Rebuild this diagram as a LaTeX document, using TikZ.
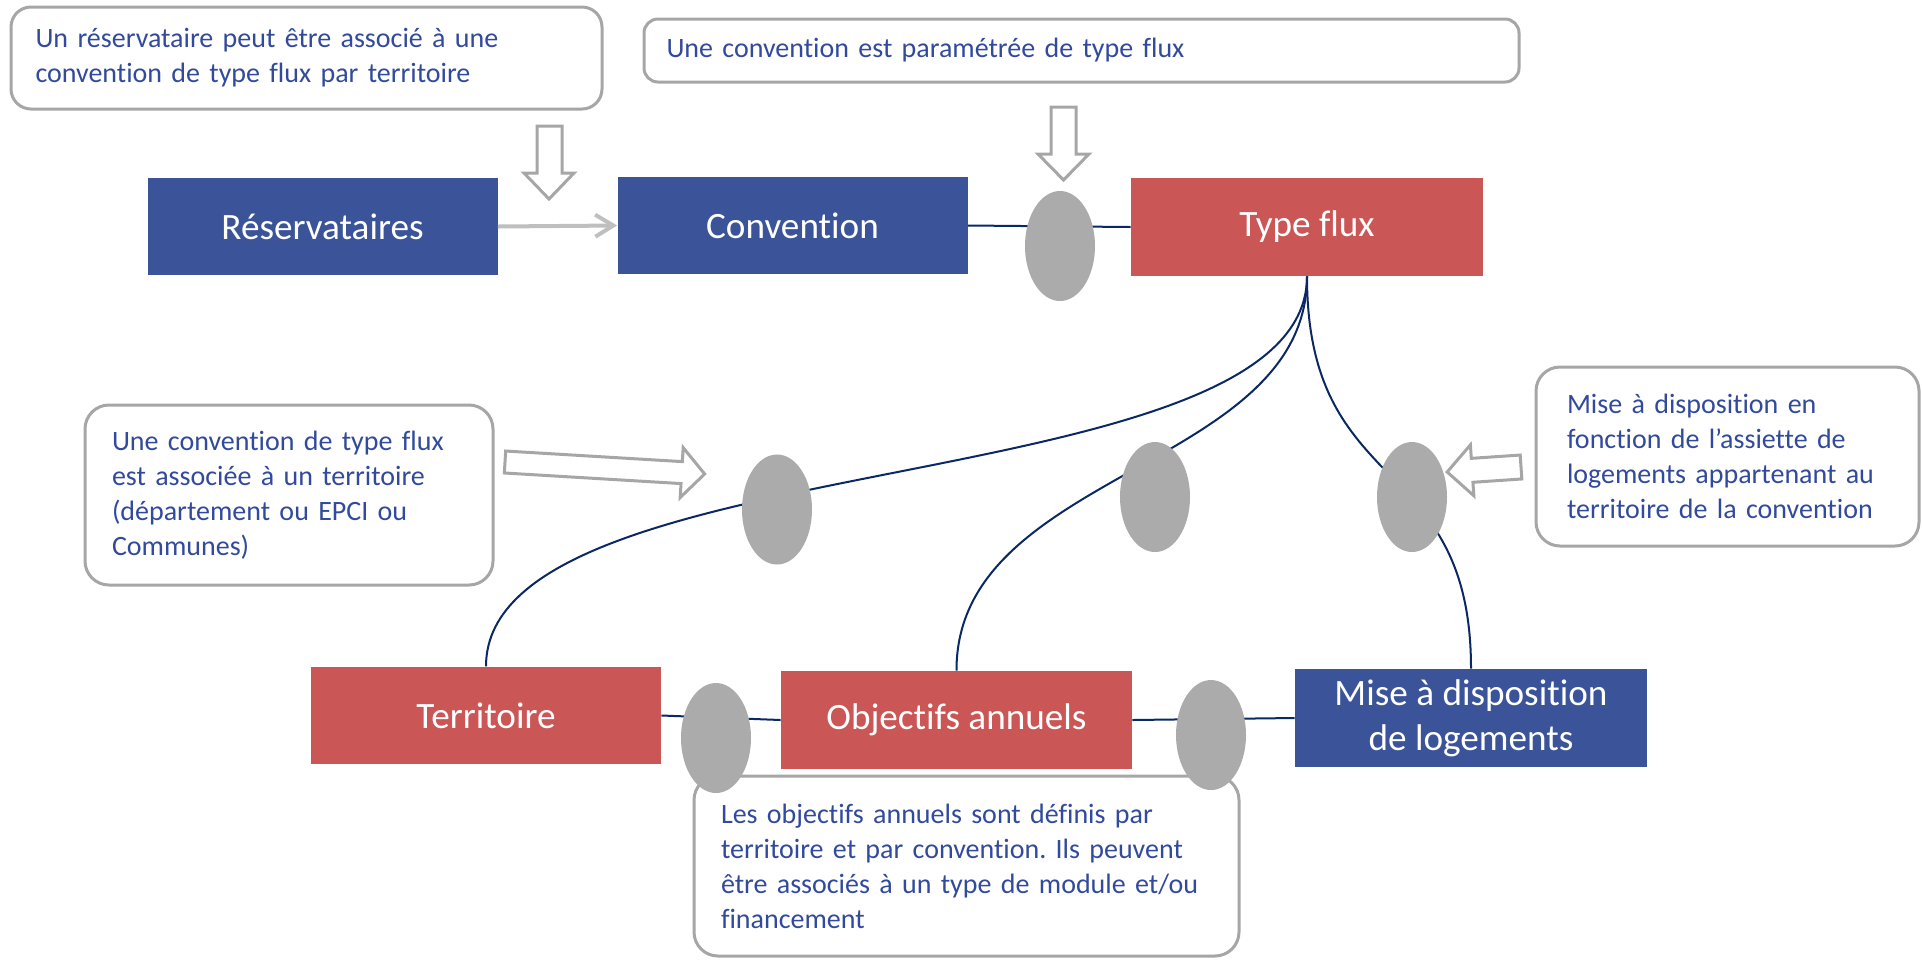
\documentclass[tikz,border=0pt]{standalone}
\usepackage{fontspec}
\setmainfont{Carlito}[Ligatures=NoCommon]
\usetikzlibrary{backgrounds,arrows.meta,shapes.geometric}
\definecolor{boxblue}{RGB}{59,84,153}
\definecolor{boxred}{RGB}{203,86,86}
\definecolor{ellgray}{RGB}{171,171,171}
\definecolor{callgray}{RGB}{166,166,166}
\definecolor{txtblue}{RGB}{50,74,156}
\definecolor{navyline}{RGB}{10,40,100}
\definecolor{arrgray}{RGB}{191,191,191}
\frenchspacing
\begin{document}
\begin{tikzpicture}[x=0.5pt,y=-0.5pt,
  entity/.style={rectangle, draw=none, text=white, font=\fontsize{18.6}{22.5}\selectfont, align=center, inner sep=0pt, minimum width=175pt, minimum height=48.75pt},
  bluebox/.style={entity, fill=boxblue},
  redbox/.style={entity, fill=boxred},
  linkdot/.style={ellipse, fill=ellgray, draw=none, minimum width=35pt, minimum height=55pt, inner sep=0pt},
  callout/.style={rectangle, rounded corners=10pt, draw=callgray, line width=1.5pt, fill=white, text=txtblue, font=\fontsize{14}{17.5}\selectfont, align=left, inner sep=0pt},
  conn/.style={draw=navyline, line width=1pt},
  blockarrow/.style={draw=callgray, line width=1.5pt, fill=white, line join=miter},
]
\useasboundingbox (0,0) rectangle (1922,966);

% callouts
\node[callout, minimum width=295.5pt, minimum height=51pt, text width=271pt] (c1) at (306.5,58)
  {Un réservataire peut être associé à une\\convention de type flux par territoire};
\node[callout, rounded corners=7pt, minimum width=437.5pt, minimum height=31.5pt, text width=415pt] (c2) at (1081.5,50.5)
  {Une convention est paramétrée de type flux};
\node[callout, rounded corners=12pt, minimum width=204pt, minimum height=90pt, text width=177pt] (c3) at (289,495)
  {Une convention de type flux\\est associée à un territoire\\(département ou EPCI ou\\Communes)};
\node[callout, rounded corners=12pt, minimum width=191.5pt, minimum height=89.5pt, text width=160.5pt] (c4) at (1727.5,456.5)
  {Mise à disposition en\\fonction de l’assiette de\\logements appartenant au\\territoire de la convention};
\node[callout, rounded corners=12pt, minimum width=272.5pt, minimum height=90pt, text width=245.5pt] (c5) at (966.5,866)
  {Les objectifs annuels sont définis par\\territoire et par convention. Ils peuvent\\être associés à un type de module et/ou\\financement};

% entity boxes
\node[bluebox] (res) at (322.5,226.5) {Réservataires};
\node[bluebox] (conv) at (792.5,225.5) {Convention};
\node[redbox, minimum width=176pt, minimum height=49pt] (tf) at (1307,227) {Type flux};
\node[redbox] (terr) at (486,715.5) {Territoire};
\node[redbox, minimum width=175.5pt, minimum height=49pt] (obj) at (956.5,720) {Objectifs annuels};
\node[bluebox, minimum width=176pt, minimum height=49pt] (mise) at (1471,718) {Mise à disposition\\de logements};

% connectors
\begin{scope}[on background layer]
  \draw[conn] (conv.east) -- (tf.west);
  \draw[conn] (terr.east) -- (obj.west);
  \draw[conn] (obj.east) -- (mise.west);
  \draw[conn] (tf.south) .. controls (1307,505) and (486,440) .. (terr.north);
  \draw[conn] (tf.south) .. controls (1307,470) and (956,470) .. (obj.north);
  \draw[conn] (tf.south) .. controls (1307,500) and (1471,450) .. (mise.north);
\end{scope}
\draw[arrgray, line width=2pt, -{Straight Barb[length=9pt,width=11pt]}] (res.east) -- (conv.west);

% relationship dots
\node[linkdot] (e1) at (1060,246) {};
\node[linkdot] (e2) at (777,509.5) {};
\node[linkdot] (e3) at (1155,497) {};
\node[linkdot] (e4) at (1412,497) {};
\node[linkdot] (e5) at (716,738) {};
\node[linkdot] (e6) at (1211,735) {};

% block arrows
\draw[blockarrow] (537,126) -- (562,126) -- (562,173) -- (574,173) -- (549,199) -- (524,173) -- (537,173) -- cycle;
\draw[blockarrow] (1051,107) -- (1076,107) -- (1076,154) -- (1089,154) -- (1063.5,180) -- (1038,154) -- (1051,154) -- cycle;
\draw[blockarrow, shift={(505,462)}, rotate=-3.43] (0,-11) -- (177,-11) -- (177,-25) -- (200,0) -- (177,25) -- (177,11) -- (0,11) -- cycle;
\draw[blockarrow, shift={(1521,467)}, rotate=183.87] (0,-12) -- (49,-12) -- (49,-25.5) -- (74,0) -- (49,25.5) -- (49,12) -- (0,12) -- cycle;
\end{tikzpicture}
\end{document}
